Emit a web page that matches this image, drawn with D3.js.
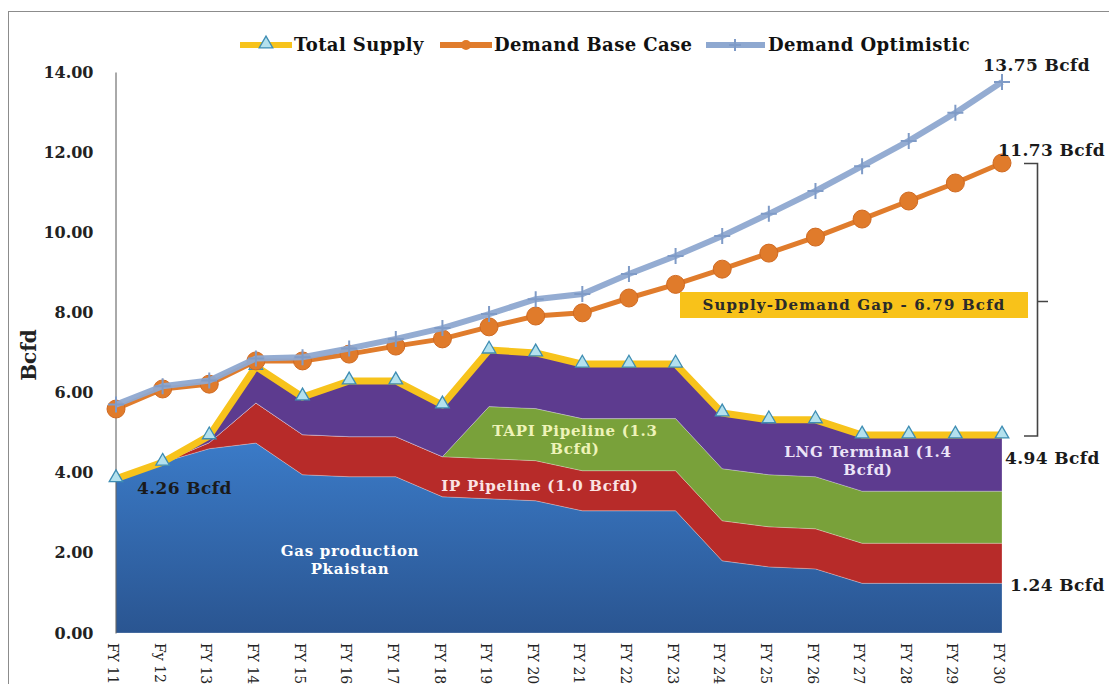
<!DOCTYPE html>
<html>
<head>
<meta charset="utf-8">
<script src="https://cdn.jsdelivr.net/npm/d3@7"></script>
<style>
  body { margin: 0; background: #fff; }
  svg { display: block; }
  text { font-family: "DejaVu Serif", serif; }
</style>
</head>
<body>
<div id="chart"></div>
<script>
var w = 1109;
var h = 684;

// data (Bcfd)
var years = ["FY 11", "Fy 12", "FY 13", "FY 14", "FY 15", "FY 16", "FY 17", "FY 18", "FY 19", "FY 20",
  "FY 21", "FY 22", "FY 23", "FY 24", "FY 25", "FY 26", "FY 27", "FY 28", "FY 29", "FY 30"];
var gasProduction = [3.85, 4.26, 4.6, 4.74, 3.95, 3.9, 3.9, 3.4, 3.35, 3.3,
  3.05, 3.05, 3.05, 1.8, 1.65, 1.6, 1.24, 1.24, 1.24, 1.24];
var ipPipeline = [0, 0, 0.15, 1.0, 1.0, 1.0, 1.0, 1.0, 1.0, 1.0,
  1.0, 1.0, 1.0, 1.0, 1.0, 1.0, 1.0, 1.0, 1.0, 1.0];
var tapiPipeline = [0, 0, 0, 0, 0, 0, 0, 0, 1.3, 1.3,
  1.3, 1.3, 1.3, 1.3, 1.3, 1.3, 1.3, 1.3, 1.3, 1.3];
var lngTerminal = [0, 0, 0.17, 0.91, 0.94, 1.39, 1.39, 1.29, 1.41, 1.39,
  1.36, 1.36, 1.36, 1.39, 1.37, 1.42, 1.4, 1.4, 1.4, 1.4];
var totalSupply = [3.85, 4.26, 4.92, 6.65, 5.89, 6.29, 6.29, 5.69, 7.06, 6.99,
  6.71, 6.71, 6.71, 5.49, 5.32, 5.32, 4.94, 4.94, 4.94, 4.94];
var demandBase = [5.59, 6.09, 6.21, 6.79, 6.79, 6.96, 7.16, 7.34, 7.64, 7.91,
  7.99, 8.36, 8.7, 9.08, 9.48, 9.88, 10.33, 10.78, 11.23, 11.73];
var demandOptimistic = [5.7, 6.16, 6.3, 6.85, 6.88, 7.1, 7.34, 7.61, 7.96, 8.33,
  8.46, 8.96, 9.41, 9.91, 10.46, 11.03, 11.65, 12.28, 12.98, 13.75];
var yTicks = [0, 2, 4, 6, 8, 10, 12, 14];

var layerKeys = ["gas", "ip", "tapi", "lng"];
var layerColors = { gas: "url(#blueGrad)", ip: "#b72b29", tapi: "#79a13a", lng: "#5d3b8f" };

var rows = years.map(function (d, i) {
  return { year: d, gas: gasProduction[i], ip: ipPipeline[i], tapi: tapiPipeline[i], lng: lngTerminal[i] };
});

var svg = d3.select("#chart").append("svg").attr("width", w).attr("height", h);

var defs = svg.append("defs");
var grad = defs.append("linearGradient").attr("id", "blueGrad")
  .attr("gradientUnits", "userSpaceOnUse")
  .attr("x1", 0).attr("y1", 440).attr("x2", 0).attr("y2", 633);
grad.append("stop").attr("offset", "0%").attr("stop-color", "#3b7bc8");
grad.append("stop").attr("offset", "100%").attr("stop-color", "#2a5591");

// outer frame
svg.append("rect").attr("x", 8.5).attr("y", 11.5).attr("width", 1200).attr("height", 800)
  .attr("fill", "none").attr("stroke", "#8c8c8c");

var x = d3.scalePoint().domain(years).range([116, 1002]);
var y = d3.scaleLinear().domain([0, 14]).range([633, 72]);

// stacked areas
var series = d3.stack().keys(layerKeys)(rows);
var area = d3.area()
  .x(function (d) { return x(d.data.year); })
  .y0(function (d) { return y(d[0]); })
  .y1(function (d) { return y(d[1]); });

svg.selectAll("path.layer")
  .data(series)
  .enter()
  .append("path")
  .attr("class", "layer")
  .attr("d", area)
  .attr("fill", function (d) { return layerColors[d.key]; })
  .attr("stroke", "rgba(255,255,255,0.25)")
  .attr("stroke-width", 1);

// y axis
var yAxis = d3.axisLeft(y).tickValues(yTicks).tickFormat(d3.format(".2f")).tickSize(0).tickPadding(22);
var gy = svg.append("g").attr("transform", "translate(115.5,0)").call(yAxis);
gy.select(".domain").attr("stroke", "#555");
gy.selectAll("text")
  .attr("font-family", "DejaVu Serif, serif")
  .attr("font-size", "16px")
  .attr("font-weight", "bold")
  .attr("fill", "#222");

// x axis labels (rotated)
var xAxis = d3.axisBottom(x).tickSize(0).tickPadding(0);
var gx = svg.append("g").attr("transform", "translate(0,643)").call(xAxis);
gx.select(".domain").remove();
gx.selectAll("text")
  .attr("font-family", "Liberation Serif, serif")
  .attr("font-size", "14px")
  .attr("fill", "#222")
  .attr("text-anchor", "start")
  .attr("dy", "0.35em")
  .attr("transform", "rotate(90)")
  .attr("x", 0)
  .attr("y", 0);
gx.selectAll(".tick").each(function (d) {
  d3.select(this).attr("transform", "translate(" + (x(d) - 3) + ",0)");
});

// Bcfd axis title
svg.append("text")
  .attr("transform", "translate(36,355) rotate(-90)")
  .attr("text-anchor", "middle")
  .attr("font-size", "20px")
  .attr("font-weight", "bold")
  .attr("fill", "#222")
  .text("Bcfd");

// total supply line
var line = function (vals) {
  return d3.line()
    .x(function (d, i) { return x(years[i]); })
    .y(function (d) { return y(d); })(vals);
};

svg.append("path").attr("d", line(totalSupply))
  .attr("fill", "none").attr("stroke", "#f7c31c").attr("stroke-width", 7).attr("stroke-linejoin", "round");

var tri = d3.symbol().type(d3.symbolTriangle).size(80);
svg.selectAll("path.tri")
  .data(totalSupply)
  .enter()
  .append("path")
  .attr("class", "tri")
  .attr("d", tri)
  .attr("transform", function (d, i) { return "translate(" + x(years[i]) + "," + (y(d) - 1) + ")"; })
  .attr("fill", "#b3e1ee")
  .attr("stroke", "#3e8db3")
  .attr("stroke-width", 1.3);

// demand base case
svg.append("path").attr("d", line(demandBase))
  .attr("fill", "none").attr("stroke", "#e07c2c").attr("stroke-width", 5);
svg.selectAll("circle.base")
  .data(demandBase)
  .enter()
  .append("circle")
  .attr("class", "base")
  .attr("cx", function (d, i) { return x(years[i]); })
  .attr("cy", function (d) { return y(d); })
  .attr("r", 9)
  .attr("fill", "#e07b2b")
  .attr("stroke", "#d06a22")
  .attr("stroke-width", 1);

// demand optimistic
svg.append("path").attr("d", line(demandOptimistic))
  .attr("fill", "none").attr("stroke", "#8ea8d0").attr("stroke-width", 6).attr("stroke-opacity", 0.95);
svg.selectAll("path.plus")
  .data(demandOptimistic)
  .enter()
  .append("path")
  .attr("class", "plus")
  .attr("d", "M-8,0H8M0,-8V8")
  .attr("transform", function (d, i) { return "translate(" + x(years[i]) + "," + y(d) + ")"; })
  .attr("stroke", "#7f9bc7")
  .attr("stroke-width", 2);

// legend
var legend = svg.append("g");
legend.append("line").attr("x1", 240).attr("x2", 292).attr("y1", 45).attr("y2", 45)
  .attr("stroke", "#f7c31c").attr("stroke-width", 6);
legend.append("path").attr("d", tri).attr("transform", "translate(266,44)")
  .attr("fill", "#b3e1ee").attr("stroke", "#3e8db3").attr("stroke-width", 1.3);
legend.append("text").attr("x", 294).attr("y", 51).text("Total Supply");

legend.append("line").attr("x1", 440).attr("x2", 492).attr("y1", 45).attr("y2", 45)
  .attr("stroke", "#e07c2c").attr("stroke-width", 6);
legend.append("circle").attr("cx", 466).attr("cy", 45).attr("r", 5).attr("fill", "#e07b2b");
legend.append("text").attr("x", 494).attr("y", 51).text("Demand Base Case");

legend.append("line").attr("x1", 706).attr("x2", 765).attr("y1", 45).attr("y2", 45)
  .attr("stroke", "#8ea8d0").attr("stroke-width", 6);
legend.append("path").attr("d", "M-6,0H6M0,-6V6").attr("transform", "translate(735,45)")
  .attr("stroke", "#7f9bc7").attr("stroke-width", 2);
legend.append("text").attr("x", 768).attr("y", 51).text("Demand Optimistic");

legend.selectAll("text")
  .attr("font-size", "18px")
  .attr("font-weight", "bold")
  .attr("letter-spacing", "0.4px")
  .attr("fill", "#111");

// value labels
var notes = [
  { t: "13.75 Bcfd", x: 983, y: 71 },
  { t: "11.73 Bcfd", x: 998, y: 156 },
  { t: "4.94 Bcfd", x: 1005, y: 464 },
  { t: "1.24 Bcfd", x: 1010, y: 591 },
  { t: "4.26 Bcfd", x: 137, y: 494 }
];
svg.selectAll("text.note")
  .data(notes)
  .enter()
  .append("text")
  .attr("class", "note")
  .attr("x", function (d) { return d.x; })
  .attr("y", function (d) { return d.y; })
  .attr("font-size", "17px")
  .attr("font-weight", "bold")
  .attr("letter-spacing", "0.4px")
  .attr("fill", "#1a1a1a")
  .text(function (d) { return d.t; });

// gap bracket
svg.append("path")
  .attr("d", "M1024,163.5H1037.5V436H1024M1037.5,301.5H1048")
  .attr("fill", "none").attr("stroke", "#444").attr("stroke-width", 1.6);

svg.append("rect").attr("x", 680).attr("y", 292).attr("width", 348).attr("height", 26)
  .attr("fill", "#f8c21a");
svg.append("text").attr("x", 854).attr("y", 310).attr("text-anchor", "middle")
  .attr("font-size", "15px").attr("font-weight", "bold").attr("fill", "#2a2a2a")
  .attr("letter-spacing", "1.2px")
  .text("Supply-Demand Gap - 6.79 Bcfd");

// area labels
var areaLabels = [
  { lines: ["TAPI Pipeline (1.3", "Bcfd)"], x: 575, y: 436, c: "#eef3b8" },
  { lines: ["IP Pipeline (1.0 Bcfd)"], x: 540, y: 491, c: "#fbe3e3" },
  { lines: ["Gas production", "Pkaistan"], x: 350, y: 556, c: "#ffffff" },
  { lines: ["LNG Terminal (1.4", "Bcfd)"], x: 868, y: 457, c: "#ece4f7" }
];
areaLabels.forEach(function (a) {
  var t = svg.append("text")
    .attr("x", a.x).attr("y", a.y)
    .attr("text-anchor", "middle")
    .attr("font-size", "15px")
    .attr("font-weight", "bold")
    .attr("letter-spacing", "0.7px")
    .attr("fill", a.c);
  a.lines.forEach(function (s, i) {
    t.append("tspan").attr("x", a.x).attr("dy", i === 0 ? 0 : 18).text(s);
  });
});
</script>
</body>
</html>
